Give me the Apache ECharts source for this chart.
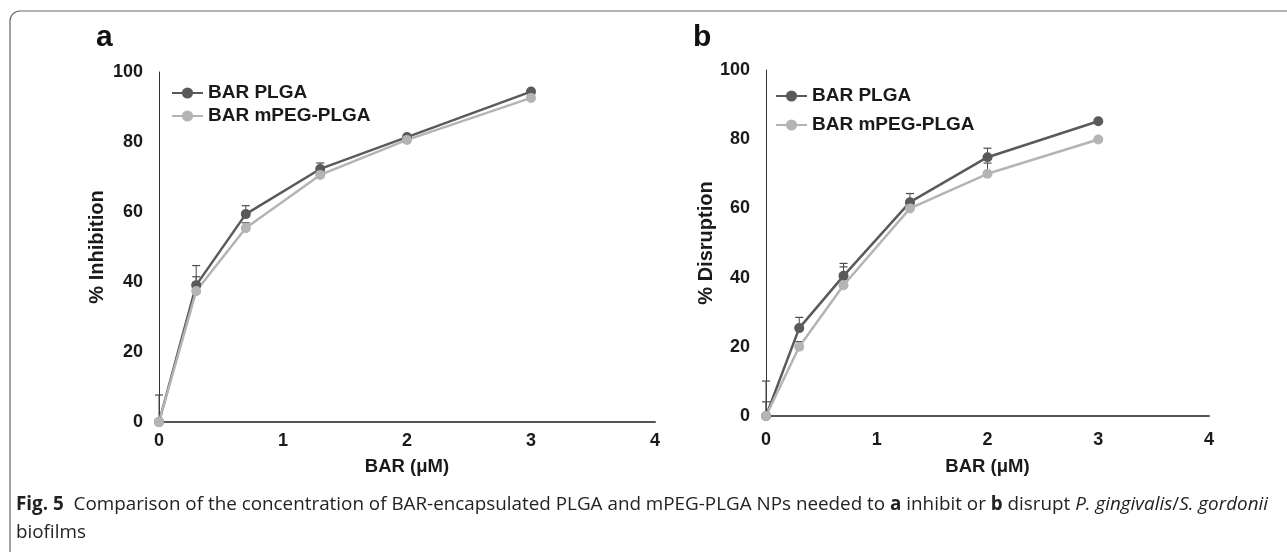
<!DOCTYPE html>
<html>
<head>
<meta charset="utf-8">
<script src="https://cdn.jsdelivr.net/npm/echarts@6/dist/echarts.min.js"></script>
<style>html,body{margin:0;padding:0;background:#fff;}#c{width:1287px;height:552px;}</style>
</head>
<body>
<div id="c"></div>
<script>
// ---- data ----
const xVals = [0, 0.3, 0.7, 1.3, 2, 3];
const inhibPLGA = [0, 39.1, 59.4, 72.3, 81.4, 94.4];
const inhibMPEG = [0, 37.4, 55.4, 70.6, 80.6, 92.6];
const inhibErrPLGA = [7.7, 5.6, 2.4, 1.7, 0.6, 0.5];
const inhibErrMPEG = [0, 4.1, 1.5, 1.0, 0.6, 0.5];
const disrPLGA = [0, 25.4, 40.5, 61.8, 74.8, 85.2];
const disrMPEG = [0, 20.0, 37.8, 60.0, 70.0, 79.9];
const disrErrPLGA = [10.1, 3.1, 3.6, 2.5, 2.6, 0.5];
const disrErrMPEG = [4.1, 1.5, 5.3, 1.5, 3.1, 0.5];
const seriesNames = ['BAR PLGA', 'BAR mPEG-PLGA'];
const xTicks = [0, 1, 2, 3, 4];
const yTicks = [0, 20, 40, 60, 80, 100];
const captionParts = [
  ['b', 'Fig. 5'],
  ['n', '  Comparison of the concentration of BAR-encapsulated PLGA and mPEG-PLGA NPs needed to '],
  ['b', 'a'],
  ['n', ' inhibit or '],
  ['b', 'b'],
  ['n', ' disrupt '],
  ['i', 'P. gingivalis'],
  ['n', '/'],
  ['i', 'S. gordonii']
];
const captionLine2 = 'biofilms';

// ---- styling ----
const DARK = '#5a5a5a', LIGHT = '#b4b4b4';
const FONT = 'Liberation Sans, Arial, sans-serif';
const CAPFONT = 'Open Sans, sans-serif';
const CAPSIZE = 19;

const chart = echarts.init(document.getElementById('c'));

function pairs(ys) { return xVals.map((x, i) => [x, ys[i]]); }
function errData(ys, es) { return xVals.map((x, i) => [x, ys[i], es[i]]); }

function errItem(params, api) {
  const x = api.value(0), y = api.value(1), e = api.value(2);
  const p0 = api.coord([x, y]), p1 = api.coord([x, y + e]);
  return {
    type: 'group',
    children: [
      { type: 'line', shape: { x1: p0[0], y1: p0[1], x2: p1[0], y2: p1[1] }, style: { stroke: '#4a4a4a', lineWidth: 1 } },
      { type: 'line', shape: { x1: p1[0] - 4, y1: p1[1], x2: p1[0] + 4, y2: p1[1] }, style: { stroke: '#4a4a4a', lineWidth: 1.2 } }
    ]
  };
}

function xAxisCfg(gi, labelMargin, nameGap) {
  return {
    type: 'value', gridIndex: gi, min: xTicks[0], max: xTicks[xTicks.length - 1], interval: 1,
    name: 'BAR (\u03bcM)', nameLocation: 'middle', nameGap: nameGap,
    nameTextStyle: { fontFamily: FONT, fontWeight: 'bold', fontSize: 18.5, color: '#1a1a1a' },
    axisLine: { show: true, onZero: false, lineStyle: { color: '#555', width: 2 } },
    axisTick: { show: false }, splitLine: { show: false },
    axisLabel: { margin: labelMargin, fontFamily: FONT, fontWeight: 'bold', fontSize: 18, color: '#1a1a1a' }
  };
}
function yAxisCfg(gi, name, gap) {
  return {
    type: 'value', gridIndex: gi, min: yTicks[0], max: yTicks[yTicks.length - 1], interval: 20,
    name: name, nameLocation: 'middle', nameGap: gap,
    nameTextStyle: { fontFamily: FONT, fontWeight: 'bold', fontSize: 20, color: '#1a1a1a' },
    axisLine: { show: true, lineStyle: { color: '#333', width: 1 } },
    axisTick: { show: false }, splitLine: { show: false },
    axisLabel: { margin: 16, fontFamily: FONT, fontWeight: 'bold', fontSize: 18, color: '#1a1a1a' }
  };
}
function lineSeries(name, gi, ys, color) {
  return {
    type: 'line', name: name, xAxisIndex: gi, yAxisIndex: gi, data: pairs(ys),
    symbol: 'circle', symbolSize: 10, z: 3,
    lineStyle: { color: color, width: 2.5 }, itemStyle: { color: color },
    emphasis: { disabled: true }, animation: false
  };
}
function errSeries(gi, ys, es) {
  return {
    type: 'custom', xAxisIndex: gi, yAxisIndex: gi, data: errData(ys, es),
    renderItem: errItem, encode: { x: 0, y: 1 }, z: 2, silent: true, animation: false
  };
}
function legendCfg(left, top, gap) {
  return {
    data: seriesNames, orient: 'vertical', left: left, top: top, itemGap: gap, padding: 0,
    itemWidth: 31, itemHeight: 14, selectedMode: false,
    textStyle: { fontFamily: FONT, fontWeight: 'bold', fontSize: 19, color: '#1a1a1a', lineHeight: 20 }
  };
}

// caption measurement for horizontal condensing
const cctx = document.createElement('canvas').getContext('2d');
const fontFor = { b: 'bold ', n: '', i: 'italic ' };
let capW = 0;
captionParts.forEach(p => { cctx.font = fontFor[p[0]] + CAPSIZE + 'px ' + CAPFONT; capW += cctx.measureText(p[1]).width; });
const CAP_X = 16, CAP_END = 1268;
const capScale = (CAP_END - CAP_X) / capW;
const capText = captionParts.map(p => '{' + p[0] + '|' + p[1] + '}').join('');
const capRich = {
  b: { fontFamily: CAPFONT, fontSize: CAPSIZE, fontWeight: 'bold', fill: '#222' },
  n: { fontFamily: CAPFONT, fontSize: CAPSIZE, fill: '#222' },
  i: { fontFamily: CAPFONT, fontSize: CAPSIZE, fontStyle: 'italic', fill: '#222' }
};

chart.setOption({
  animation: false,
  backgroundColor: '#fff',
  grid: [
    { left: 159, top: 72, width: 496, height: 350 },
    { left: 766, top: 70, width: 443, height: 346 }
  ],
  xAxis: [xAxisCfg(0, 10, 35), xAxisCfg(1, 15, 41)],
  yAxis: [yAxisCfg(0, '% Inhibition', 52), yAxisCfg(1, '% Disruption', 50)],
  legend: [legendCfg(171, 83, 3), legendCfg(775, 86, 9)],
  series: [
    errSeries(0, inhibPLGA, inhibErrPLGA),
    errSeries(0, inhibMPEG, inhibErrMPEG),
    lineSeries(seriesNames[0], 0, inhibPLGA, DARK),
    lineSeries(seriesNames[1], 0, inhibMPEG, LIGHT),
    errSeries(1, disrPLGA, disrErrPLGA),
    errSeries(1, disrMPEG, disrErrMPEG),
    lineSeries(seriesNames[0], 1, disrPLGA, DARK),
    lineSeries(seriesNames[1], 1, disrMPEG, LIGHT)
  ],
  graphic: [
    { type: 'rect', shape: { x: 10, y: 11, width: 1400, height: 700, r: 10 }, style: { fill: 'none', stroke: '#666', lineWidth: 1.2 }, silent: true, z: -1 },
    { type: 'text', x: 96, y: 53, style: { text: 'a', font: 'bold 30px ' + FONT, fill: '#111', verticalAlign: 'bottom' }, silent: true },
    { type: 'text', x: 693, y: 53, style: { text: 'b', font: 'bold 30px ' + FONT, fill: '#111', verticalAlign: 'bottom' }, silent: true },
    { type: 'text', x: CAP_X, y: 505, scaleX: capScale, style: { text: capText, rich: capRich, fill: '#222', verticalAlign: 'middle', align: 'left' }, silent: true },
    { type: 'text', x: CAP_X, y: 533, scaleX: capScale, style: { text: captionLine2, font: CAPSIZE + 'px ' + CAPFONT, fill: '#222', verticalAlign: 'middle', align: 'left' }, silent: true }
  ]
});
</script>
</body>
</html>
